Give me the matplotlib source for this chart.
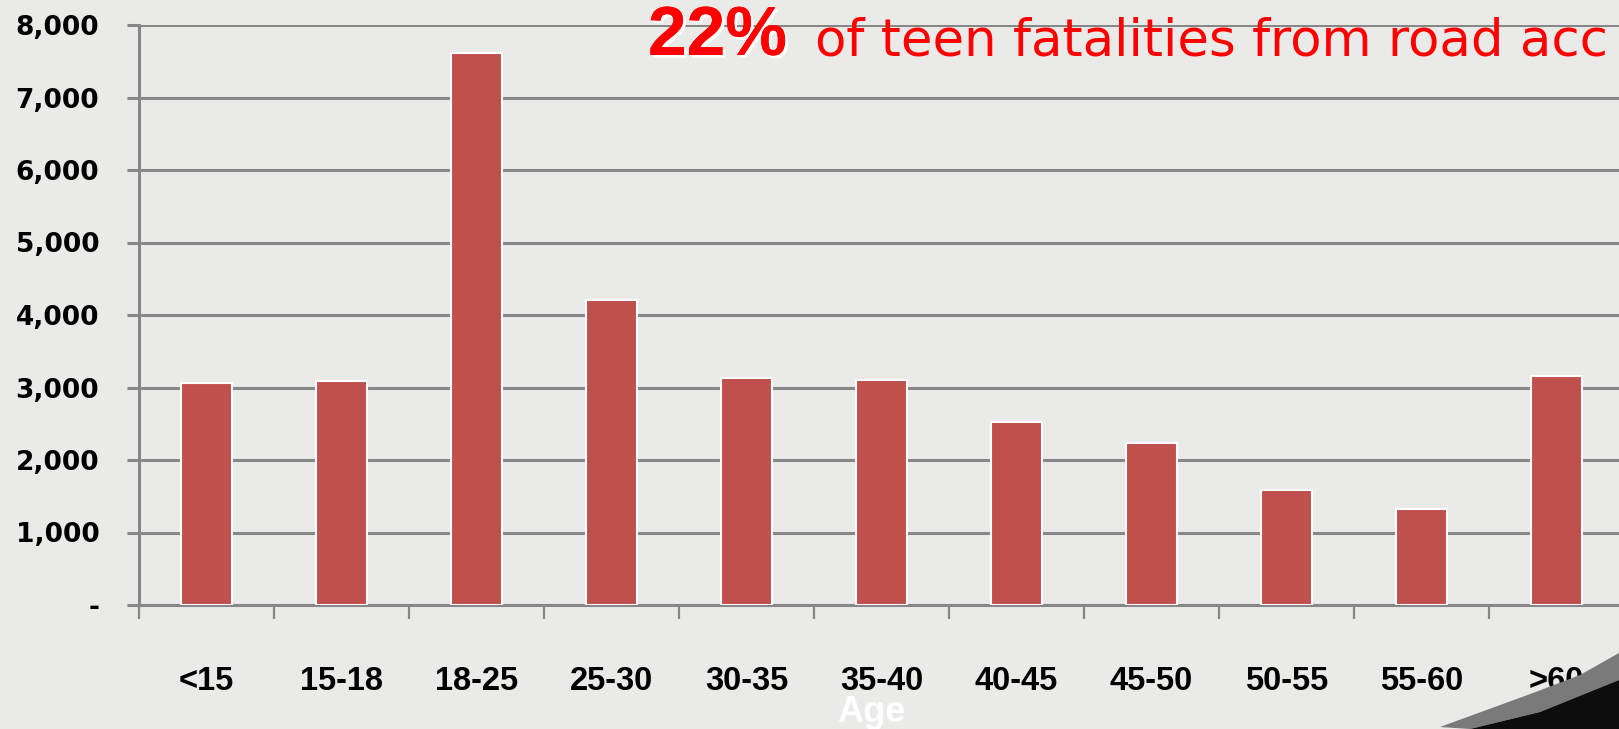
import matplotlib
matplotlib.use('Agg')
import matplotlib.pyplot as plt
import matplotlib.patheffects as pe
from matplotlib.patches import Polygon
import numpy as np

# Data
age_groups = ['<15', '15-18', '18-25', '25-30', '30-35', '35-40',
              '40-45', '45-50', '50-55', '55-60', '>60']
fatalities = [3060, 3090, 7610, 4210, 3130, 3100, 2520, 2230, 1590, 1320, 3160]
y_ticks = [0, 1000, 2000, 3000, 4000, 5000, 6000, 7000, 8000]
y_labels = ['-', '1,000', '2,000', '3,000', '4,000', '5,000', '6,000', '7,000', '8,000']

W, H = 1619, 729
BG = '#eaebe8'
BAR = '#c0504d'
GRID = '#878787'

fig = plt.figure(figsize=(W / 100, H / 100), dpi=100, facecolor=BG)
ax = fig.add_axes([139 / W, (H - 605) / H, (1624 - 139) / W, (605 - 25) / H])
ax.set_facecolor(BG)

x = np.arange(len(age_groups))
ax.bar(x, fatalities, width=0.38, color=BAR, edgecolor='white', linewidth=1.5, zorder=3)

ax.set_xlim(-0.5, len(age_groups) - 0.5)
ax.set_ylim(0, 8000)

# y axis
ax.set_yticks(y_ticks)
ax.set_yticklabels(y_labels, fontsize=19, fontweight='bold', family='DejaVu Sans')
ax.yaxis.grid(True, color=GRID, linewidth=2.2, zorder=0)
ax.set_axisbelow(True)
ax.tick_params(axis='y', length=8.6, width=2.2, color=GRID, pad=20)

# x axis: ticks on category boundaries, labels in the middle
ax.set_xticks(np.arange(-0.5, len(age_groups) + 0.5, 1.0))
ax.set_xticklabels([])
ax.set_xticks(x, minor=True)
ax.set_xticklabels(age_groups, minor=True, fontsize=23.5, fontweight='bold',
                   family='Liberation Sans')
ax.tick_params(axis='x', which='major', length=10, width=1.6, color=GRID)
ax.tick_params(axis='x', which='minor', length=0, pad=44)

for side in ['top', 'right']:
    ax.spines[side].set_visible(False)
for side in ['left', 'bottom']:
    ax.spines[side].set_color(GRID)
    ax.spines[side].set_linewidth(2.2)

# axis title
fig.text(871 / W, 1 - 712 / H, 'Age', color='white', fontsize=26, fontweight='bold',
         family='Liberation Sans', ha='center', va='center')

# headline (cut at the right edge in the original)
fig.text(648 / W, 1 - 55 / H, '22%', color='#ff0000', fontsize=50, fontweight='bold',
         family='Liberation Sans', ha='left', va='baseline',
         path_effects=[pe.withSimplePatchShadow(offset=(2, -2), shadow_rgbFace='white', alpha=1.0),
                       pe.Normal()])
fig.text(815 / W, 1 - 55 / H, 'of teen fatalities from road acc', color='#ff0000',
         fontsize=37, family='DejaVu Sans', ha='left', va='baseline')

# page curl in the corner
outer = [(1440, 2), (1533, 36), (1580, 54), (1619, 76)]
inner = [(1470, 0), (1540, 17), (1619, 49)]
band = Polygon([(px / W, py / H) for px, py in outer + [(1619, 49)] + inner[::-1][1:]],
               closed=True, transform=fig.transFigure, facecolor='#7a7a7a', edgecolor='none')
fig.patches.append(band)
dark = Polygon([(px / W, py / H) for px, py in inner + [(1619, 0)]],
               closed=True, transform=fig.transFigure, facecolor='#0d0d0d', edgecolor='none')
fig.patches.append(dark)

fig.savefig('out.png', dpi=100, facecolor=BG)
